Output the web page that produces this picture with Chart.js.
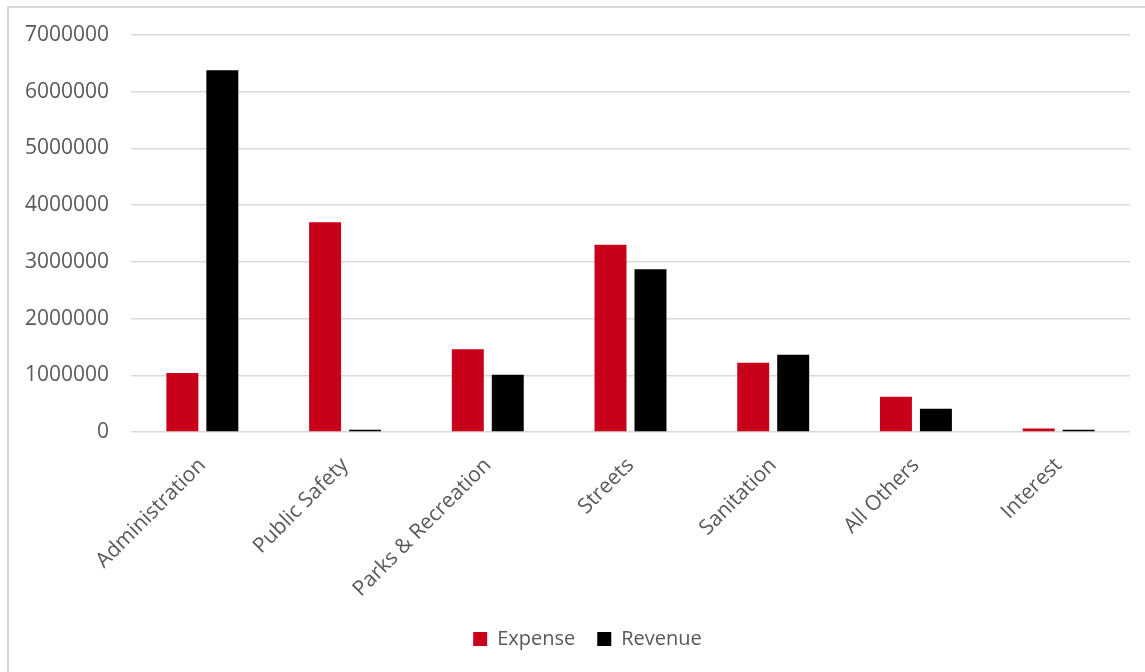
<!DOCTYPE html>
<html>
<head>
<meta charset="utf-8">
<script src="https://cdn.jsdelivr.net/npm/chart.js@4.4.1/dist/chart.umd.min.js"></script>
<style>
  html, body { margin: 0; padding: 0; background: #fff; overflow: hidden; }
  .frame {
    position: absolute; left: 7px; top: 6px;
    width: 1150px; height: 680px;
    border: 2px solid #d9d9d9; box-sizing: border-box;
  }
  .wrap { position: absolute; left: 9px; top: 8px; width: 1136px; height: 664px; }
</style>
</head>
<body>
<div class="frame"></div>
<div class="wrap"><canvas id="budget"></canvas></div>
<script>
const categories = ['Administration', 'Public Safety', 'Parks & Recreation', 'Streets', 'Sanitation', 'All Others', 'Interest'];
const expense = [1040000, 3700000, 1460000, 3300000, 1220000, 620000, 60000];
const revenue = [6380000, 40000, 1010000, 2870000, 1360000, 410000, 40000];

const ctx = document.getElementById('budget');

// nudge the legend a little to the right, like the original
const shiftLegend = {
  id: 'shiftLegend',
  afterLayout(chart) {
    chart.legend.left += 11;
    chart.legend.right += 11;
  }
};

new Chart(ctx, {
  type: 'bar',
  data: {
    labels: categories,
    datasets: [{
      label: 'Expense',
      data: expense,
      backgroundColor: '#c80019',
      borderWidth: 0
    }, {
      label: 'Revenue',
      data: revenue,
      backgroundColor: '#000000',
      borderWidth: 0
    }]
  },
  plugins: [shiftLegend],
  options: {
    responsive: true,
    maintainAspectRatio: false,
    animation: false,
    datasets: {
      bar: { barPercentage: 0.8, categoryPercentage: 0.56 }
    },
    layout: { padding: { left: 14, right: 15, top: 27, bottom: 13 } },
    plugins: {
      tooltip: { enabled: false },
      legend: {
        position: 'bottom',
        labels: {
          boxWidth: 14,
          boxHeight: 14,
          padding: 22,
          color: '#595959',
          font: { family: 'Open Sans', size: 20 }
        }
      }
    },
    scales: {
      x: {
        grid: { display: false },
        border: { display: false },
        ticks: {
          color: '#595959',
          font: { family: 'Open Sans', size: 21 },
          minRotation: 45,
          maxRotation: 45,
          padding: 13
        },
        afterFit: (scale) => { scale.height = 175; }
      },
      y: {
        min: 0,
        max: 7000000,
        beginAtZero: true,
        border: { display: false },
        grid: { color: '#d9d9d9', lineWidth: 1.5, drawTicks: false },
        ticks: {
          stepSize: 1000000,
          color: '#595959',
          font: { family: 'Open Sans', size: 21 },
          padding: 22,
          callback: (v) => String(v)
        },
        afterFit: (scale) => {
          scale.width = 108;
          scale.paddingTop = 0;
          scale.paddingBottom = 0;
        }
      }
    }
  }
});
</script>
</body>
</html>
